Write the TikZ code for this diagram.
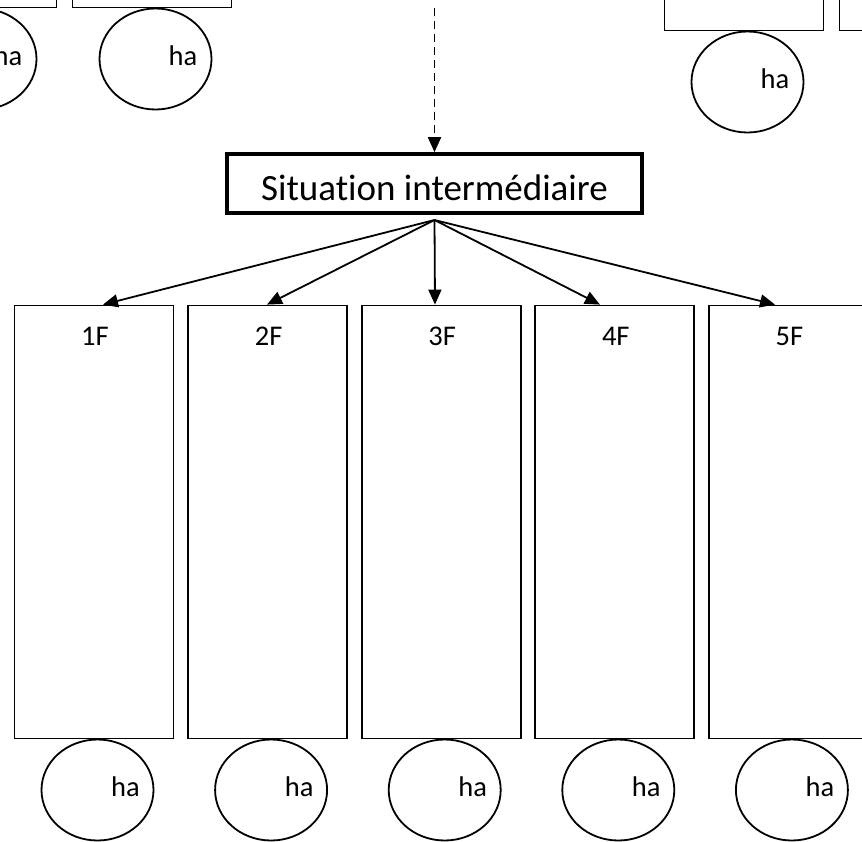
\documentclass[tikz,border=0pt]{standalone}
\usepackage{fontspec}
\setmainfont{Carlito}[Ligatures=NoCommon]
\usetikzlibrary{arrows.meta,shapes.geometric}

\tikzset{
  floor/.style={draw, line width=1.8pt, minimum width=159pt, minimum height=433pt, inner sep=0pt},
  hab/.style={draw, ellipse, line width=1.8pt, minimum width=112pt, minimum height=101pt, inner sep=0pt},
  lbl/.style={inner sep=0pt, anchor=base, font=\fontsize{28.5}{34}\selectfont},
  situ/.style={draw, line width=3.6pt, minimum width=415pt, minimum height=59pt, inner sep=0pt},
  link/.style={line width=1.8pt},
  >={Triangle[width=13pt,length=15pt]}
}

\begin{document}
\begin{tikzpicture}[x=1pt,y=-1pt]
\useasboundingbox (0,0) rectangle (862,841);
\clip (0,0) rectangle (862,841);

\node[floor] (ta) at (-23,-209) {};
\node[floor] (tb) at (152,-209) {};
\node[floor] (tc) at (744,-186) {};
\node[floor] (td) at (919,-186) {};

\node[hab] (ha) at (-19.5,59) {};
\node[hab] (hb) at (155.5,59) {};
\node[hab] (hc) at (747.5,82) {};
\node[lbl] at (8,65) {ha};
\node[lbl] at (183,65) {ha};
\node[lbl] at (775,88) {ha};

\node[situ] (sit) at (434.5,183.5) {};
\node[lbl, font=\fontsize{37}{44}\selectfont] (sitxt) at (434.5,200) {Situation intermédiaire};
\coordinate (src) at (434.5,8);
\coordinate (hub) at (434.5,220);
\draw[->,link,dash pattern=on 8pt off 5pt] (src) -- (sit.north);

\node[floor] (f1) at (94,522) {};
\node[floor] (f2) at (267.6,522) {};
\node[floor] (f3) at (441.2,522) {};
\node[floor] (f4) at (614.8,522) {};
\node[floor] (f5) at (788.4,522) {};

\node[lbl] (n1) at (95,345) {1F};
\node[lbl] (n2) at (268.6,345) {2F};
\node[lbl] (n3) at (442.2,345) {3F};
\node[lbl] (n4) at (615.8,345) {4F};
\node[lbl] (n5) at (789.4,345) {5F};

\draw[->,link] (hub) -- ([xshift=9pt]f1.north);
\draw[->,link] (hub) -- ([xshift=-0.6pt]f2.north);
\draw[->,link] (hub) -- ([xshift=-6.2pt]f3.north);
\draw[->,link] (hub) -- ([xshift=-14.8pt]f4.north);
\draw[->,link] (hub) -- ([xshift=-13.4pt]f5.north);

\node[hab] (h1) at (97.5,790) {};
\node[hab] (h2) at (271.1,790) {};
\node[hab] (h3) at (444.7,790) {};
\node[hab] (h4) at (618.3,790) {};
\node[hab] (h5) at (791.9,790) {};
\node[lbl] at (125.5,796) {ha};
\node[lbl] at (299.1,796) {ha};
\node[lbl] at (472.7,796) {ha};
\node[lbl] at (646.3,796) {ha};
\node[lbl] at (819.9,796) {ha};
\end{tikzpicture}
\end{document}
